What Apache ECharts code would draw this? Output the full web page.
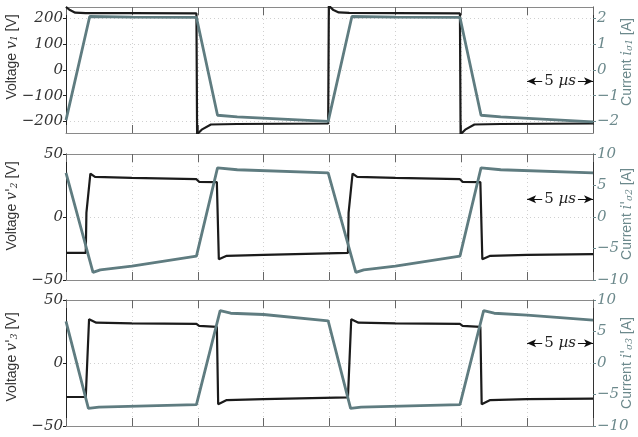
<!DOCTYPE html>
<html><head><meta charset="utf-8">
<script src="https://cdn.jsdelivr.net/npm/echarts@6/dist/echarts.min.js"></script>
<style>html,body{margin:0;padding:0;background:#fff}#c{width:638px;height:437px}</style>
</head><body><div id="c"></div>
<script>
// time axis in µs
const timeTicks = [0, 5, 10, 15, 20, 25, 30, 35, 40];
// Panel 1: voltage v1 [V] and current iσ1 [A]
const v1 = [[0,245],[0.3,233],[0.7,223],[1.5,221],[5,221],[9.9,220],[9.95,-250],[10.3,-232],[11,-212],[13,-210],[19.9,-208],
            [19.95,250],[20.3,233],[20.7,224],[21.5,222],[25,221],[29.9,220],[29.95,-250],[30.3,-232],[31,-212],[33,-210],[40,-208]];
const i1 = [[0,-1.95],[1.8,2.08],[5,2.06],[9.9,2.05],[11.5,-1.76],[13,-1.82],[19.9,-2.0],
            [21.7,2.08],[25,2.06],[29.9,2.05],[31.5,-1.76],[33,-1.82],[40,-2.02]];
// Panel 2: v'2 [V], i'σ2 [A]
const v2 = [[0,-28.5],[1.5,-28.5],[1.55,3.5],[1.7,4.5],[1.85,34.5],[2.2,31.8],[5,31],[9.9,30],[10.1,27.9],[11.45,27.7],[11.6,-33.5],[12.2,-30.8],[15,-30],[21.4,-28.5],
            [21.45,3.5],[21.6,4.5],[21.75,34.5],[22.1,31.8],[25,31],[29.9,30],[30.1,27.9],[31.45,27.7],[31.6,-33.5],[32.2,-30.8],[35,-30],[40,-29.5]];
const i2 = [[0,7.0],[2.05,-8.8],[2.6,-8.4],[5,-7.8],[9.9,-6.2],[11.5,7.8],[13,7.5],[19.9,7.0],
            [22.0,-8.8],[22.6,-8.4],[25,-7.8],[29.9,-6.2],[31.5,7.8],[33,7.5],[40,7.0]];
// Panel 3: v'3 [V], i'σ3 [A]
const v3 = [[0,-27],[1.5,-27],[1.75,34.7],[2.3,32],[5,31.5],[9.9,31],[10.1,29.4],[11.45,28.7],[11.55,-32.8],[12.2,-29.4],[15,-28.6],[21.4,-27.3],
            [21.65,34.7],[22.2,32],[25,31.5],[29.9,31],[30.1,29.4],[31.45,28.7],[31.55,-32.8],[32.2,-29.4],[35,-28.6],[40,-28.3]];
const i3 = [[0,6.6],[1.7,-7.2],[2.5,-7.0],[9.9,-6.6],[11.7,8.3],[12.5,7.9],[15,7.7],[19.9,6.7],
            [21.6,-7.2],[22.4,-7.0],[29.9,-6.6],[31.7,8.3],[32.5,7.9],[35,7.6],[40,6.8]];
// axis ranges and tick labels
const vRange = [[-245,245],[-50,50],[-50,50]];
const iRange = [[-2.45,2.45],[-10,10],[-10,10]];
const vTicks = [[-200,-100,0,100,200],[-50,0,50],[-50,0,50]];
const iTicks = [[-2,-1,0,1,2],[-10,-5,0,5,10],[-10,-5,0,5,10]];
const arrowLevel = [-44, 14, 15.6]; // y (V) of the "5 µs" marker
const vNames = ['{s|Voltage }{m|v}{b|1}{s| [V]}', "{s|Voltage }{m|v'}{b|2}{s| [V]}", "{s|Voltage }{m|v'}{b|3}{s| [V]}"];
const iNames = ['{s|Current }{m|i}{b|σ1}{s| [A]}', "{s|Current }{m|i'}{b|σ2}{s| [A]}", "{s|Current }{m|i'}{b|σ3}{s| [A]}"];
const vData = [v1, v2, v3];
const iData = [i1, i2, i3];

const BLACK = '#1b1b1b', TEAL = '#5f7c80', TEALTXT = '#6c898c';
const tickFont = {fontFamily:'DejaVu Serif', fontStyle:'italic', fontSize:15};
const fmt = v => String(v).replace('-', '\u2212');
const tops = [7, 154, 300], H = 126;

const chart = echarts.init(document.getElementById('c'));
const grid = [], xAxis = [], yAxis = [], series = [], graphic = [];
for (let k = 0; k < 3; k++) {
  grid.push({left:66, right:45, top:tops[k], height:H, show:false});
  const xa = pos => ({type:'value', gridIndex:k, position:pos, min:0, max:40, interval:5,
    axisLine:{show:true, onZero:false, lineStyle:{color:'#8a8a8a', width:1}},
    axisTick:{show:true, inside:true, length:8, lineStyle:{color:'#666'}},
    axisLabel:{show:false},
    splitLine:{show: pos==='bottom', lineStyle:{color:'#d0d0d0', type:[1,3], width:1}}});
  xAxis.push(xa('bottom'), xa('top'));
  yAxis.push({type:'value', gridIndex:k, position:'left', min:vRange[k][0], max:vRange[k][1],
    axisLine:{show:true, onZero:false, lineStyle:{color:'#222', width:1}},
    axisTick:{show:true, inside:false, length:3, customValues:vTicks[k], lineStyle:{color:'#222'}},
    axisLabel:Object.assign({show:true, margin:3, color:'#333', customValues:vTicks[k], formatter:fmt}, tickFont),
    splitLine:{show:true, lineStyle:{color:'#d0d0d0', type:[1,3], width:1}}});
  yAxis.push({type:'value', gridIndex:k, position:'right', min:iRange[k][0], max:iRange[k][1],
    axisLine:{show:true, onZero:false, lineStyle:{color:'#333', width:1}},
    axisTick:{show:true, inside:false, length:3, customValues:iTicks[k], lineStyle:{color:TEALTXT}},
    axisLabel:Object.assign({show:true, margin:4, color:TEALTXT, customValues:iTicks[k], formatter:fmt}, tickFont),
    splitLine:{show:false}});
  series.push({type:'line', xAxisIndex:2*k, yAxisIndex:2*k, data:vData[k], showSymbol:false, z:3,
    lineStyle:{color:BLACK, width:2.2}, itemStyle:{color:BLACK}, clip:true,
    markLine:{silent:true, symbol:['arrow','arrow'], symbolSize:[6,9], animation:false,
      lineStyle:{color:'#111', width:1, type:'solid'},
      label:{show:true, position:'insideMiddle', formatter:'{n|5 }{u|µs}', backgroundColor:'#fff', padding:[0,2],
        rich:{n:{fontFamily:'DejaVu Serif', fontSize:15, color:'#222'}, u:{fontFamily:'DejaVu Serif', fontStyle:'italic', fontSize:15, color:'#222'}}},
      data:[[{coord:[35, arrowLevel[k]]},{coord:[40, arrowLevel[k]]}]]}});
  series.push({type:'line', xAxisIndex:2*k, yAxisIndex:2*k+1, data:iData[k], showSymbol:false, z:4,
    lineStyle:{color:TEAL, width:2.8}, itemStyle:{color:TEAL}, clip:true});
}
const leftY = [57, 206, 357], rightY = [62, 214, 363];
const rich = (col) => ({
  s:{fontFamily:'Liberation Sans', fontSize:14, fill:col},
  m:{fontFamily:'DejaVu Serif', fontStyle:'italic', fontSize:14, fill:col},
  b:{fontFamily:'DejaVu Serif', fontStyle:'italic', fontSize:9, fill:col, padding:[6,0,0,0], verticalAlign:'bottom'}
});
for (let k = 0; k < 3; k++) {
  graphic.push({type:'text', x:12, y:leftY[k], rotation:Math.PI/2,
    style:{text:vNames[k], rich:rich('#333'), align:'center', verticalAlign:'middle'}});
  graphic.push({type:'text', x:627, y:rightY[k], rotation:Math.PI/2,
    style:{text:iNames[k], rich:rich(TEALTXT), align:'center', verticalAlign:'middle'}});
}
chart.setOption({animation:false, backgroundColor:'#fff', grid, xAxis, yAxis, series, graphic});
</script></body></html>
